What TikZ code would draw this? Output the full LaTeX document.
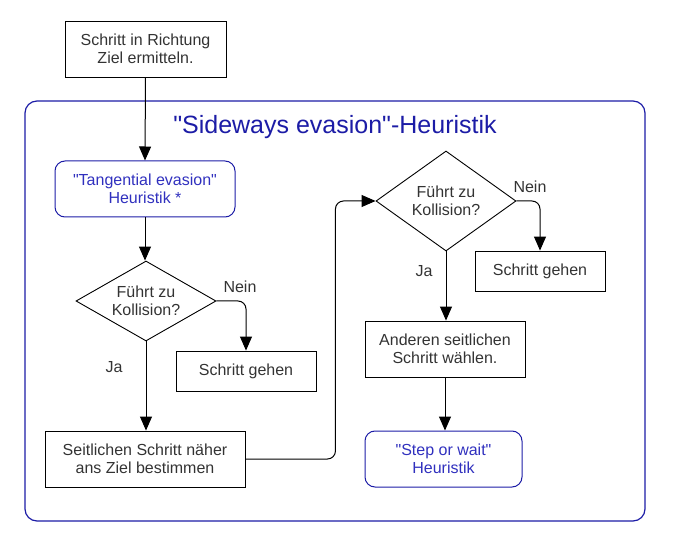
\documentclass[tikz,border=0pt]{standalone}
\usepackage{fontspec}
\setmainfont{Liberation Sans}
\usetikzlibrary{arrows.meta,shapes.geometric,positioning}
\definecolor{frameblue}{HTML}{1C1CA6}
\definecolor{heurblue}{HTML}{3030BE}
\definecolor{txtgray}{HTML}{333333}
\newcommand{\qt}{\textquotedbl}

\begin{document}
\begin{tikzpicture}[x=1pt, y=-1pt,
    every node/.style={font=\fontsize{16}{18}\selectfont, align=center, text=txtgray},
    stepbox/.style={draw, line width=0.9pt, inner sep=0pt},
    heurbox/.style={draw=frameblue, line width=1pt, rounded corners=10pt, inner sep=0pt, text=heurblue},
    query/.style={draw, diamond, line width=0.9pt, inner sep=0pt},
    flow/.style={line width=1pt, -{Triangle[length=14pt, width=12pt]}},
    lbl/.style={font=\fontsize{16}{18}\selectfont}]
    \useasboundingbox (0,0) rectangle (678,548);

    % Start
    \node[stepbox, minimum width=161pt, minimum height=56pt] (start) at (145.5,49) {Schritt in Richtung\\Ziel ermitteln.};

    % Sideways evasion frame
    \node[draw=frameblue, line width=1.2pt, rounded corners=12pt, minimum width=620pt, minimum height=420pt] (frame) at (335,311) {};
    \node[text=frameblue, font=\fontsize{25}{29}\selectfont] (title) at (335,127) {\qt Sideways evasion\qt-Heuristik};

    % Left column
    \node[heurbox, minimum width=180pt, minimum height=56pt] (tang) at (145,189) {\qt Tangential evasion\qt\\Heuristik *};
    \node[query, minimum width=140pt, minimum height=80pt, aspect=1.75] (kollA) at (146,301) {Führt zu\\Kollision?};
    \node[stepbox, minimum width=140pt, minimum height=40pt] (gehenA) at (246,371) {Schritt gehen};
    \node[stepbox, minimum width=200pt, minimum height=56pt] (seit) at (145,459) {Seitlichen Schritt näher\\ans Ziel bestimmen};

    % Right column
    \node[query, minimum width=140pt, minimum height=100pt, aspect=1.4] (kollB) at (446,201) {Führt zu\\Kollision?};
    \node[stepbox, minimum width=130pt, minimum height=40pt] (gehenB) at (540,271) {Schritt gehen};
    \node[stepbox, minimum width=160pt, minimum height=56pt] (andere) at (445,349) {Anderen seitlichen\\Schritt wählen.};
    \node[heurbox, minimum width=157pt, minimum height=56pt] (stepwait) at (443.5,459) {\qt Step or wait\qt\\Heuristik};

    % Connectors
    \draw[flow] (start.south) -- (tang.north);
    \draw[flow] (tang.south) -- (kollA.north -| tang.south);
    \draw[flow] (kollA.south) -- (seit.north -| kollA.south);
    \draw[flow, rounded corners=8pt] (kollA.east) -| (gehenA.north);
    \draw[flow, rounded corners=8pt] (seit.east) -- ++(90,0) |- (kollB.west);
    \draw[flow, rounded corners=8pt] (kollB.east) -| (gehenB.north);
    \draw[flow] (kollB.south) -- (andere.north -| kollB.south);
    \draw[flow] (andere.south) -- (stepwait.north -| andere.south);

    % Labels
    \node[lbl] (neinA) at (240,287) {Nein};
    \node[lbl] (jaA) at (114,367) {Ja};
    \node[lbl] (neinB) at (530,187) {Nein};
    \node[lbl] (jaB) at (424,271) {Ja};
\end{tikzpicture}
\end{document}
